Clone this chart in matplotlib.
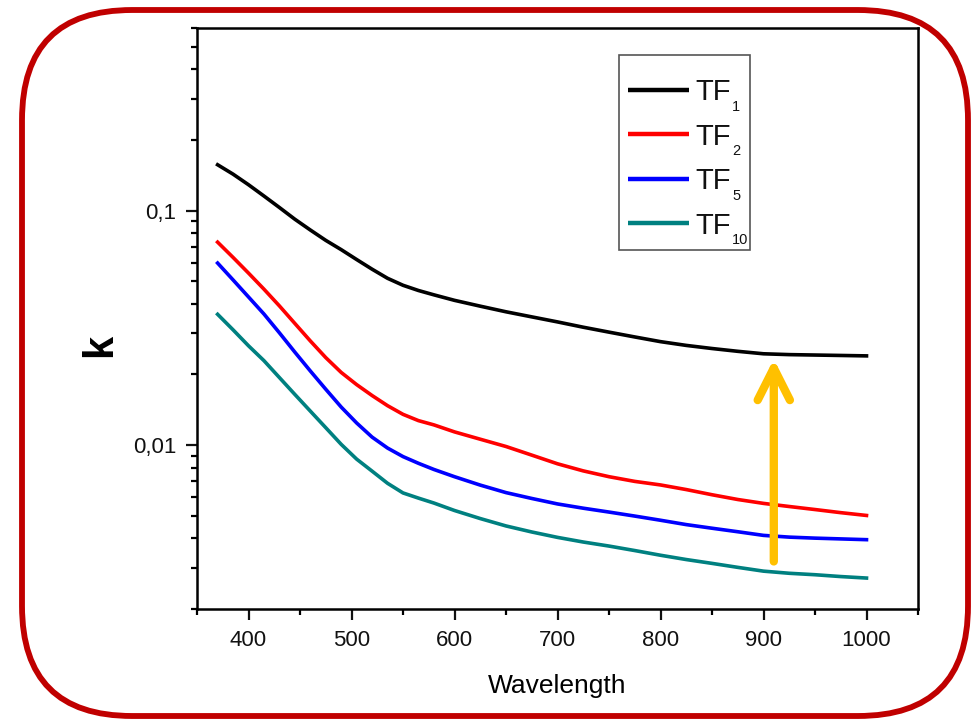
import matplotlib
matplotlib.use("Agg")
import matplotlib.pyplot as plt
from matplotlib.patches import FancyBboxPatch, FancyArrowPatch, Rectangle
from matplotlib.ticker import LogLocator, MultipleLocator, NullFormatter

plt.rcParams['font.family'] = ['Liberation Sans', 'DejaVu Sans']

# Extinction coefficient k versus wavelength (nm) for the four films
wavelength = [370, 385, 400, 415, 430, 445, 460, 475, 490, 505, 520, 535, 550, 565, 580, 600,
              625, 650, 675, 700, 725, 750, 775, 800, 825, 850, 875, 900, 925, 950, 975, 1000]
k_tf1 = [0.1567, 0.1429, 0.1288, 0.1153, 0.1030, 0.0918, 0.0826, 0.0746, 0.0681, 0.0618,
         0.0562, 0.0514, 0.0480, 0.0456, 0.0437, 0.0414, 0.0391, 0.0370, 0.0352, 0.0335,
         0.0318, 0.0303, 0.0289, 0.0276, 0.0266, 0.0258, 0.0251, 0.0245, 0.0243, 0.0242,
         0.0241, 0.0240]
k_tf2 = [0.0733, 0.0631, 0.0541, 0.0462, 0.0392, 0.0330, 0.0278, 0.0236, 0.0204, 0.0181,
         0.01626, 0.01472, 0.01352, 0.01271, 0.01219, 0.01138, 0.01059, 0.00986, 0.00906,
         0.00832, 0.00776, 0.00733, 0.00700, 0.00676, 0.00646, 0.00614, 0.00586, 0.00564,
         0.00547, 0.00531, 0.00515, 0.00501]
k_tf5 = [0.0597, 0.0506, 0.0428, 0.0362, 0.0301, 0.0249, 0.0207, 0.0173, 0.01452, 0.01242,
         0.01081, 0.00971, 0.00893, 0.00836, 0.00787, 0.00733, 0.00675, 0.00627, 0.00592,
         0.00561, 0.00538, 0.00518, 0.00498, 0.00478, 0.00458, 0.00442, 0.00427, 0.00412,
         0.00405, 0.00401, 0.00398, 0.00395]
k_tf10 = [0.0361, 0.0310, 0.0265, 0.0229, 0.0194, 0.01644, 0.01396, 0.01186, 0.01007, 0.00871,
          0.00774, 0.00687, 0.00625, 0.00594, 0.00566, 0.00526, 0.00486, 0.00452, 0.00426,
          0.00404, 0.00386, 0.00371, 0.00355, 0.00339, 0.00325, 0.00313, 0.00301, 0.00290,
          0.00284, 0.00280, 0.00275, 0.00271]

series = [k_tf1, k_tf2, k_tf5, k_tf10]
label_base = 'TF'
label_subs = ['1', '2', '5', '10']
colors = ['#000000', '#FF0000', '#0000FF', '#008080']

x_ticks = [400, 500, 600, 700, 800, 900, 1000]
y_ticks = [0.01, 0.1]
y_tick_labels = ['0,01', '0,1']

# Arrow marking the increase of k (wavelength, k at tail and head)
arrow_x = 910
arrow_k_tail = 0.00319
arrow_k_head = 0.0233

W, H = 972, 720
fig = plt.figure(figsize=(W / 100, H / 100), dpi=100)
ax = fig.add_axes([197 / W, 1 - 609 / H, 721 / W, 581 / H])

for ys, c in zip(series, colors):
    ax.plot(wavelength, ys, color=c, lw=2.6)

ax.set_yscale('log')
ax.set_xlim(350, 1050)
ax.set_ylim(0.002, 0.6)
ax.set_xticks(x_ticks)
ax.xaxis.set_minor_locator(MultipleLocator(50))
ax.set_yticks(y_ticks, y_tick_labels)
ax.yaxis.set_minor_locator(LogLocator(base=10, subs=range(2, 10)))
ax.yaxis.set_minor_formatter(NullFormatter())

for sp in ax.spines.values():
    sp.set_linewidth(1.8)
ax.tick_params(which='major', length=8, width=1.6, labelsize=16, pad=7,
               direction='out', top=False, right=False, colors='#111111')
ax.tick_params(which='minor', length=4.5, width=1.6, direction='out',
               top=False, right=False)

ax.set_xlabel('Wavelength', fontsize=19, labelpad=17)
fig.text(100 / W, 1 - 345 / H, 'k', rotation=90, fontsize=30,
         fontweight='bold', ha='center', va='center')

arrow = FancyArrowPatch((arrow_x, arrow_k_tail), (arrow_x, arrow_k_head),
                        arrowstyle='->,head_length=1.15,head_width=0.58',
                        mutation_scale=20, color='#FFC000', lw=6,
                        shrinkA=0, shrinkB=0, capstyle='round',
                        joinstyle='round', zorder=5)
ax.add_patch(arrow)

# Overlay in pixel units (y pointing down) for the key and the rounded frame
ov = fig.add_axes([0, 0, 1, 1], zorder=10)
ov.set_xlim(0, W)
ov.set_ylim(H, 0)
ov.axis('off')
ov.patch.set_alpha(0)

# Key: box, sample lines and subscripted labels
key_left, key_top, key_w, key_h = 619, 55, 131, 195
row_y0, row_step = 90, 44.4
ov.add_patch(Rectangle((key_left, key_top), key_w, key_h, fill=True, fc='white',
                       ec='#555555', lw=1.2))
for i, (sub, c) in enumerate(zip(label_subs, colors)):
    y = row_y0 + i * row_step
    ov.plot([key_left + 9, key_left + 70], [y, y], color=c, lw=3.2,
            solid_capstyle='butt')
    ov.text(key_left + 76, y + 10.5, label_base, fontsize=21, ha='left',
            va='baseline', color='#111111')
    ov.text(key_left + 113, y + 21, sub, fontsize=10.5, ha='left',
            va='baseline', color='#111111')

ov.add_patch(FancyBboxPatch((22, 10), 946, 706,
                            boxstyle='round,pad=0,rounding_size=110',
                            fill=False, ec='#C00000', lw=4.2))

fig.savefig('out.png', dpi=100)
